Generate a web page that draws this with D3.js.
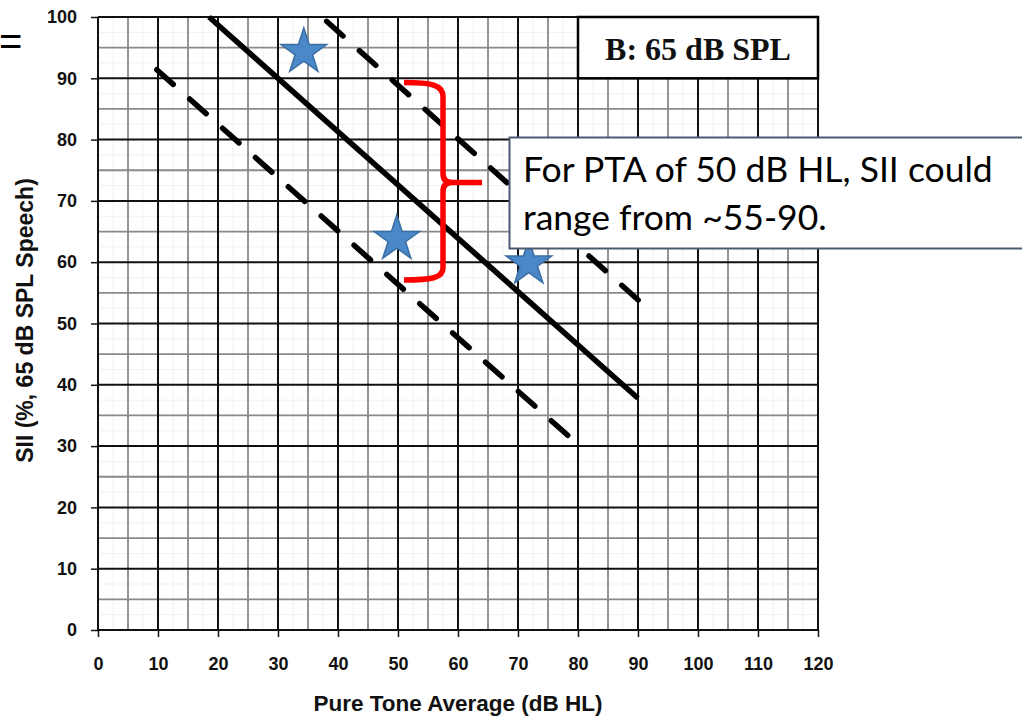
<!DOCTYPE html>
<html>
<head>
<meta charset="utf-8">
<script src="https://cdn.jsdelivr.net/npm/d3@7"></script>
<style>
    body { margin: 0; background: #fff; }
    svg { display: block; }
</style>
</head>
<body>
<div id="chart"></div>
<script>
// ---- data (x = PTA dB HL, y = SII %)
var xTicks = [0, 10, 20, 30, 40, 50, 60, 70, 80, 90, 100, 110, 120];
var yTicks = [0, 10, 20, 30, 40, 50, 60, 70, 80, 90, 100];
var solidLine = [[18.5, 100], [90, 37.8]];
var upperDashed = [[38.1, 99.3], [90.3, 53.6]];
var lowerDashed = [[9.8, 91.4], [79.5, 30.7]];
var stars = [[34.3, 94.3], [49.8, 63.8], [71.8, 59.8]];
// brace: left x, spine x, tip x, top y, middle y, bottom y
var braceX = [51, 57.5, 64];
var braceY = [89.3, 73, 57.1];
var panelLabel = "B: 65 dB SPL";
var panelBox = [[80, 100], [120, 90]];
var calloutLines = ["For PTA of 50 dB HL, SII could", "range from ~55-90."];

var W = 1022, H = 718;
var m = {top: 17, right: 204, bottom: 88, left: 98};
var iw = W - m.left - m.right, ih = H - m.top - m.bottom;

var svg = d3.select("#chart").append("svg").attr("width", W).attr("height", H);

var x = d3.scaleLinear().domain([0, 120]).range([m.left, m.left + iw]);
var y = d3.scaleLinear().domain([0, 100]).range([m.top + ih, m.top]);

//-------------- grid: faint 2.5, grey 5, black 10
var g = svg.append("g");
var fine = d3.range(0, 120.1, 2.5).filter(function(v){return v % 5 !== 0;});
var fineY = d3.range(0, 100.1, 2.5).filter(function(v){return v % 5 !== 0;});
var minorX = d3.range(5, 120, 10), minorY = d3.range(5, 100, 10);

function vlines(vals, stroke, w) {
    g.selectAll(null).data(vals).enter().append("line")
        .attr("x1", function(d){return x(d);}).attr("x2", function(d){return x(d);})
        .attr("y1", y(0)).attr("y2", y(100))
        .attr("stroke", stroke).attr("stroke-width", w);
}
function hlines(vals, stroke, w) {
    g.selectAll(null).data(vals).enter().append("line")
        .attr("y1", function(d){return y(d);}).attr("y2", function(d){return y(d);})
        .attr("x1", x(0)).attr("x2", x(120))
        .attr("stroke", stroke).attr("stroke-width", w);
}
vlines(fine, "#f1f1f1", 1); hlines(fineY, "#f1f1f1", 1);
vlines(minorX, "#8a8a8a", 1.8); hlines(minorY, "#8a8a8a", 1.8);
vlines(xTicks, "#111", 2); hlines(yTicks, "#111", 2);

//-------------- axes
var font = "'Liberation Sans', Arial, sans-serif";
var xAxis = svg.append("g").attr("transform", "translate(0," + y(0) + ")")
    .call(d3.axisBottom(x).tickValues(xTicks).tickSize(7).tickSizeOuter(0).tickPadding(20));
var yAxis = svg.append("g").attr("transform", "translate(" + x(0) + ",0)")
    .call(d3.axisLeft(y).tickValues(yTicks).tickSize(7).tickSizeOuter(0).tickPadding(14));
[xAxis, yAxis].forEach(function(a){
    a.select(".domain").remove();
    a.selectAll(".tick line").attr("stroke", "#111").attr("stroke-width", 1.5);
    a.selectAll("text").style("font-family", font).style("font-size", "18px")
        .style("font-weight", 700).attr("fill", "#111");
});

svg.append("text").text("Pure Tone Average (dB HL)")
    .attr("x", (x(0) + x(120)) / 2).attr("y", 711).attr("text-anchor", "middle")
    .style("font-family", font).style("font-size", "22.5px").style("font-weight", 700).attr("fill", "#111");
svg.append("text").text("SII (%, 65 dB SPL Speech)")
    .attr("transform", "translate(33," + ((y(0) + y(100)) / 2 - 3) + ") rotate(-90)")
    .attr("text-anchor", "middle")
    .style("font-family", font).style("font-size", "23px").style("font-weight", 700).attr("fill", "#111");

// stray "=" from the slide
svg.append("text").text("=").attr("x", -1).attr("y", 55)
    .style("font-family", font).style("font-size", "40px").attr("fill", "#000");

//-------------- panel label box
svg.append("rect")
    .attr("x", x(panelBox[0][0])).attr("y", y(panelBox[0][1]))
    .attr("width", x(panelBox[1][0]) - x(panelBox[0][0]))
    .attr("height", y(panelBox[1][1]) - y(panelBox[0][1]))
    .attr("fill", "#fff").attr("stroke", "#000").attr("stroke-width", 2.5);
svg.append("text").text(panelLabel)
    .attr("x", (x(panelBox[0][0]) + x(panelBox[1][0])) / 2).attr("y", 60)
    .attr("text-anchor", "middle")
    .style("font-family", "'Liberation Serif', 'Times New Roman', serif")
    .style("font-size", "32px").style("font-weight", 700).attr("fill", "#111");

//-------------- lines
var line = d3.line().x(function(d){return x(d[0]);}).y(function(d){return y(d[1]);});
svg.append("path").datum(solidLine).attr("d", line)
    .attr("fill", "none").attr("stroke", "#000").attr("stroke-width", 5.5);
[upperDashed, lowerDashed].forEach(function(l){
    svg.append("path").datum(l).attr("d", line)
        .attr("fill", "none").attr("stroke", "#000").attr("stroke-width", 5.5)
        .attr("stroke-dasharray", "22,22").attr("stroke-linecap", "round");
});

//-------------- stars
var star = d3.symbol().type(d3.symbolStar).size(24 * 24 / 0.8908);
svg.selectAll(".star").data(stars).enter().append("path").attr("class", "star")
    .attr("d", star)
    .attr("transform", function(d){return "translate(" + x(d[0]) + "," + y(d[1]) + ")";})
    .attr("fill", "#4a88c7").attr("stroke", "#3a6ea4").attr("stroke-width", 1.5);

//-------------- red brace
var bx0 = x(braceX[0]), bx1 = x(braceX[1]), bx2 = x(braceX[2]);
var by0 = y(braceY[0]), by1 = y(braceY[1]), by2 = y(braceY[2]), r = 9;
var bp = d3.path();
bp.moveTo(bx0, by0);
bp.bezierCurveTo(bx1 - 12, by0, bx1, by0 + 2, bx1, by0 + 14);
bp.lineTo(bx1, by1 - r);
bp.quadraticCurveTo(bx1, by1, bx1 + r, by1);
bp.lineTo(bx2, by1);
bp.moveTo(bx1 + r, by1);
bp.quadraticCurveTo(bx1, by1, bx1, by1 + r);
bp.lineTo(bx1, by2 - 12);
bp.bezierCurveTo(bx1, by2 - 2, bx1 - 12, by2, bx0, by2);
svg.append("path").attr("d", bp.toString())
    .attr("fill", "none").attr("stroke", "#ff0000").attr("stroke-width", 5.5);

//-------------- callout
var co = svg.append("g");
co.append("rect").attr("x", 509.5).attr("y", 137.5).attr("width", 530).attr("height", 111)
    .attr("fill", "#fff").attr("stroke", "#4b5a70").attr("stroke-width", 2);
co.selectAll("text").data(calloutLines).enter().append("text")
    .text(function(d){return d;})
    .attr("x", 523).attr("y", function(d, i){return 182 + i * 48;})
    .style("font-family", "Lato, 'Open Sans', sans-serif").style("font-size", "35.5px")
    .attr("fill", "#000");
</script>
</body>
</html>
